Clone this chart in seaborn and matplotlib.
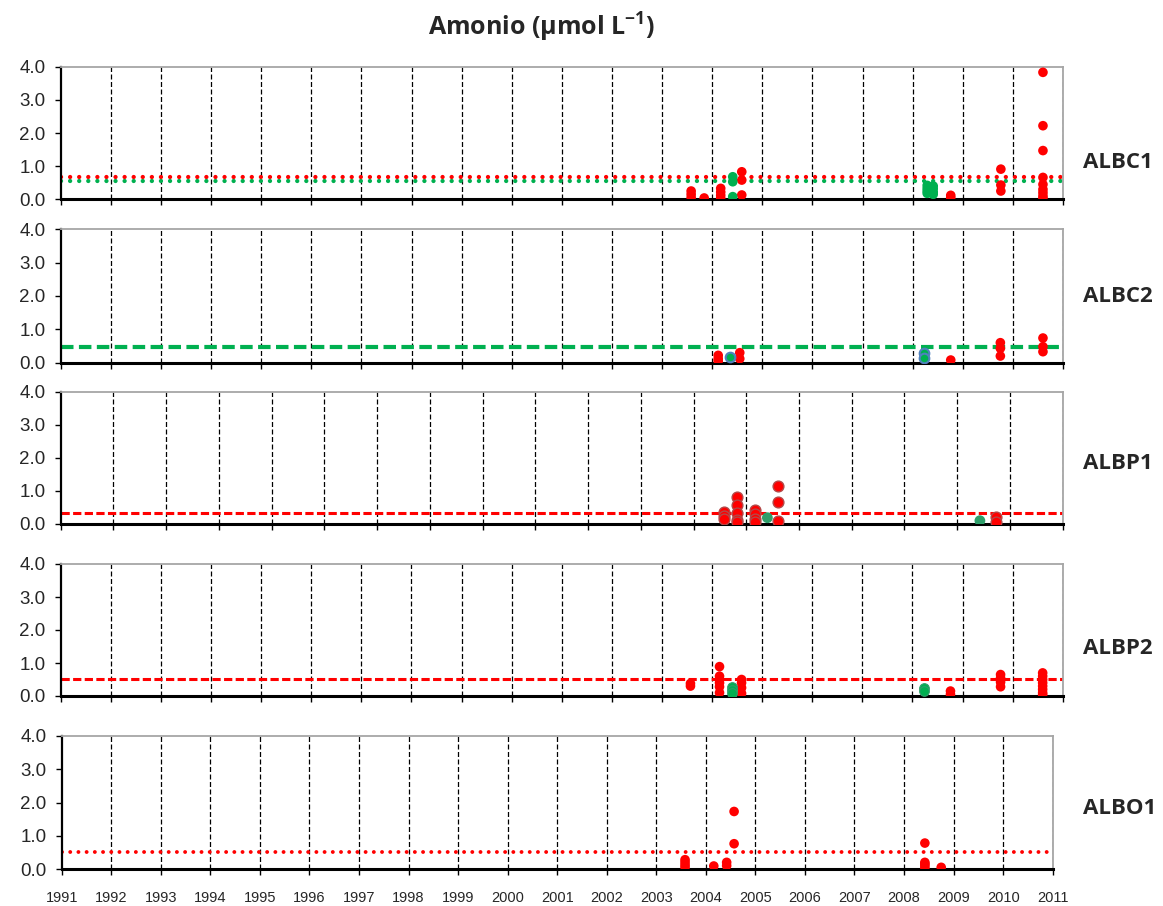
import matplotlib
matplotlib.use("Agg")
import matplotlib.pyplot as plt
import seaborn as sns

# --- data (decimal year, umol/L) ---

# ALBC1
albc1_red_t = [2003.58, 2003.58, 2003.58, 2003.84, 2004.17, 2004.17, 2004.17, 2004.17,
               2004.59, 2004.59, 2004.59, 2008.76, 2008.76, 2009.76, 2009.76, 2009.76,
               2010.6, 2010.6, 2010.6, 2010.6, 2010.6, 2010.6, 2010.6, 2010.6, 2010.6]
albc1_red_v = [0.25, 0.15, 0.05, 0.04, 0.33, 0.22, 0.12, 0.03,
               0.83, 0.58, 0.13, 0.12, 0.05, 0.91, 0.43, 0.25,
               3.83, 2.22, 1.47, 0.66, 0.45, 0.30, 0.20, 0.10, 0.03]
albc1_green_t = [2004.41, 2004.41, 2004.41, 2008.29, 2008.29, 2008.29, 2008.29,
                 2008.41, 2008.41, 2008.41, 2008.41]
albc1_green_v = [0.68, 0.53, 0.08, 0.42, 0.33, 0.25, 0.18, 0.40, 0.32, 0.22, 0.15]
albc1_red_ref = 0.66
albc1_green_ref = 0.56

# ALBC2
albc2_red_t = [2004.12, 2004.12, 2004.12, 2004.55, 2004.55, 2008.76,
               2009.75, 2009.75, 2009.75, 2010.6, 2010.6, 2010.6]
albc2_red_v = [0.22, 0.12, 0.05, 0.30, 0.12, 0.08, 0.60, 0.43, 0.20, 0.74, 0.48, 0.33]
albc2_green_t = [2004.36, 2008.23, 2008.23]
albc2_green_v = [0.17, 0.28, 0.15]
albc2_green_ref = 0.48

# ALBP1 (this panel's axis runs 1991-2010)
albp1_red_t = [2003.57, 2003.57, 2003.57, 2003.83, 2003.83, 2003.83, 2003.83, 2003.83,
               2004.16, 2004.16, 2004.16, 2004.16, 2004.6, 2004.6, 2004.6, 2008.74, 2008.74]
albp1_red_v = [0.35, 0.25, 0.15, 0.81, 0.57, 0.32, 0.12, 0.07,
               0.42, 0.30, 0.15, 0.07, 1.16, 0.67, 0.10, 0.22, 0.07]
albp1_green_t = [2004.4, 2008.43]
albp1_green_v = [0.19, 0.10]
albp1_red_ref = 0.34

# ALBP2
albp2_red_t = [2003.57, 2003.57, 2004.15, 2004.15, 2004.15, 2004.15, 2004.15, 2004.15,
               2004.59, 2004.59, 2004.59, 2004.59, 2008.76, 2008.76,
               2009.76, 2009.76, 2009.76, 2009.76,
               2010.6, 2010.6, 2010.6, 2010.6, 2010.6, 2010.6, 2010.6, 2010.6]
albp2_red_v = [0.38, 0.30, 0.89, 0.60, 0.50, 0.40, 0.28, 0.10,
               0.50, 0.40, 0.25, 0.08, 0.15, 0.05,
               0.65, 0.55, 0.42, 0.28,
               0.70, 0.60, 0.50, 0.40, 0.30, 0.20, 0.10, 0.04]
albp2_green_t = [2004.39, 2004.39, 2004.39, 2008.24, 2008.24]
albp2_green_v = [0.28, 0.18, 0.08, 0.25, 0.15]
albp2_red_ref = 0.51

# ALBO1
albo1_red_t = [2003.58, 2003.58, 2003.58, 2003.58, 2004.16, 2004.42, 2004.42,
               2004.57, 2004.57, 2008.42, 2008.42, 2008.42, 2008.42, 2008.42, 2008.75]
albo1_red_v = [0.28, 0.20, 0.12, 0.05, 0.09, 0.20, 0.10,
               1.73, 0.76, 0.78, 0.20, 0.15, 0.10, 0.03, 0.05]
albo1_red_ref = 0.52

station_names = ["ALBC1", "ALBC2", "ALBP1", "ALBP2", "ALBO1"]

RED = "#FF0000"
GREEN = "#00B050"

sns.set_style("white")
plt.rcParams["font.family"] = ["Liberation Sans", "DejaVu Sans"]
plt.rcParams["mathtext.fontset"] = "custom"
plt.rcParams["mathtext.rm"] = "Open Sans:bold"
plt.rcParams["mathtext.default"] = "regular"

fig = plt.figure(figsize=(11.63, 9.06), dpi=100)
W, H = 1163.0, 906.0


def make_ax(left, right, top, bottom):
    return fig.add_axes([left / W, 1 - bottom / H, (right - left) / W, (bottom - top) / H])


def style_ax(ax, x_end, show_xlabels=False):
    ax.set_xlim(1991, x_end)
    ax.set_ylim(0, 4)
    ax.set_xticks(list(range(1991, x_end + 1)))
    ax.set_yticks([0, 1, 2, 3, 4])
    ax.set_yticklabels([f"{v:.1f}" for v in [0, 1, 2, 3, 4]], fontsize=13.5)
    ax.grid(False)
    for yr in range(1992, x_end + 1):
        ax.axvline(yr, color="black", lw=0.9, ls=(0, (4, 2)), zorder=1)
    ax.tick_params(axis="both", direction="out", length=4, width=1, color="black",
                   left=True, bottom=True)
    ax.tick_params(axis="y", pad=7)
    ax.tick_params(axis="x", pad=12, labelsize=10.5, labelbottom=show_xlabels)
    ax.spines["left"].set_color("black")
    ax.spines["left"].set_linewidth(1.6)
    ax.spines["bottom"].set_color("black")
    ax.spines["bottom"].set_linewidth(2.2)
    for s in ["top", "right"]:
        ax.spines[s].set_color("#A6A6A6")
        ax.spines[s].set_linewidth(1.3)
    ax.set_xlabel("")
    ax.set_ylabel("")


def dots(ax, t, v, color, size=48, edge="none", lw=0):
    sns.scatterplot(x=t, y=v, ax=ax, color=color, s=size, edgecolor=edge,
                    linewidth=lw, zorder=3, legend=False)


dotted = (0, (0.01, 2.1))

# ALBC1
ax1 = make_ax(60.7, 1063, 66.7, 199.3)
ax1.axhline(albc1_red_ref, color=RED, lw=3.1, ls=dotted, dash_capstyle="round", zorder=2)
ax1.axhline(albc1_green_ref, color=GREEN, lw=3.1, ls=dotted, dash_capstyle="round", zorder=2)
dots(ax1, albc1_red_t, albc1_red_v, RED)
dots(ax1, albc1_green_t, albc1_green_v, GREEN)
style_ax(ax1, 2011)

# ALBC2
ax2 = make_ax(60.7, 1063, 229.3, 362.7)
ax2.axhline(albc2_green_ref, color=GREEN, lw=3, ls=(0, (3, 1.3)), zorder=2)
dots(ax2, albc2_red_t, albc2_red_v, RED)
dots(ax2, albc2_green_t, albc2_green_v, GREEN, edge="#4F81BD", lw=1.5)
style_ax(ax2, 2011)

# ALBP1
ax3 = make_ax(60.7, 1062.7, 391.7, 524)
ax3.axhline(albp1_red_ref, color=RED, lw=2.2, ls=(0, (2.7, 1.1)), zorder=2)
dots(ax3, albp1_red_t, albp1_red_v, RED, size=60, edge="#B34848", lw=1)
dots(ax3, albp1_green_t, albp1_green_v, "#2E9E6A", size=60)
style_ax(ax3, 2010)

# ALBP2
ax4 = make_ax(60.7, 1062.7, 564, 696)
ax4.axhline(albp2_red_ref, color=RED, lw=2.2, ls=(0, (2.7, 1.1)), zorder=2)
dots(ax4, albp2_red_t, albp2_red_v, RED)
dots(ax4, albp2_green_t, albp2_green_v, GREEN, edge="#2E9E6A", lw=0.8)
style_ax(ax4, 2011)

# ALBO1
ax5 = make_ax(61.7, 1052.7, 736, 869)
ax5.axhline(albo1_red_ref, color=RED, lw=2.8, ls=dotted, dash_capstyle="round", zorder=2)
dots(ax5, albo1_red_t, albo1_red_v, RED)
style_ax(ax5, 2011, show_xlabels=True)

# station names on the right
for name, yc in zip(station_names, [162, 297, 464, 648, 808]):
    fig.text(1083 / W, 1 - yc / H, name, ha="left", va="center", fontsize=16,
             fontweight="bold", family=["Open Sans", "DejaVu Sans"])

fig.text(541 / W, 1 - 27 / H, "Amonio (\u00b5mol L$^{-1}$)", ha="center", va="center",
         fontsize=18, fontweight="bold", family=["Open Sans", "DejaVu Sans"])

fig.savefig("out.png", dpi=100)
